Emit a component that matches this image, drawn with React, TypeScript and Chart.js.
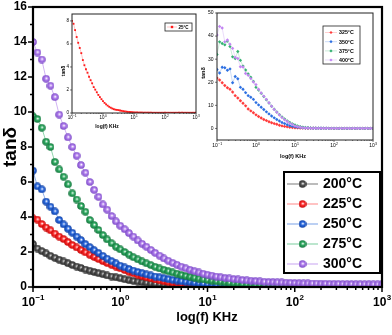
import React, { useEffect, useRef } from 'react';
import { Chart, registerables } from 'chart.js';

Chart.register(...registerables);

// ---------- frequency grids (kHz) ----------
const MANTISSA_20 = [1, 1.122, 1.259, 1.413, 1.585, 1.778, 1.995, 2.239, 2.512, 2.818, 3.162, 3.548, 3.981, 4.467, 5.012, 5.623, 6.31, 7.079, 7.943, 8.913];
const MANTISSA_15 = [1, 1.166, 1.359, 1.585, 1.848, 2.154, 2.512, 2.929, 3.415, 3.981, 4.642, 5.412, 6.31, 7.356, 8.577];
const DECADE_STARTS = [0.1, 1, 10, 100];
const FREQ_END = 1000;
const FREQ_MAIN = [...DECADE_STARTS.flatMap((d) => MANTISSA_20.map((m) => +(d * m).toPrecision(4))), FREQ_END];
const FREQ_INSET2 = [...DECADE_STARTS.flatMap((d) => MANTISSA_15.map((m) => +(d * m).toPrecision(4))), FREQ_END];

// ---------- tick labels ----------
const X_TICK_EXPONENTS = [-1, 0, 1, 2, 3];
const Y_TICKS_MAIN = [0, 2, 4, 6, 8, 10, 12, 14, 16];
const Y_MINOR_MAIN = [1, 3, 5, 7, 9, 11, 13, 15];
const Y_TICKS_INSET1 = [0, 2, 4, 6, 8];
const Y_TICKS_INSET2 = [0, 10, 20, 30, 40, 50];

// ---------- main chart series (tanδ) ----------
const MAIN_LABELS = ['200°C', '225°C', '250°C', '275°C', '300°C'];
const TAN_200C = [
  2.45, 2.2, 2.05, 1.92, 1.78, 1.67, 1.56, 1.46, 1.36, 1.26,
  1.17, 1.09, 1.0, 0.93, 0.86, 0.79, 0.73, 0.66, 0.6, 0.55,
  0.5, 0.44, 0.39, 0.35, 0.31, 0.27, 0.24, 0.21, 0.19, 0.17,
  0.15, 0.13, 0.12, 0.11, 0.1, 0.09, 0.09, 0.08, 0.08, 0.07,
  0.07, 0.07, 0.06, 0.06, 0.06, 0.06, 0.05, 0.05, 0.05, 0.05,
  0.05, 0.05, 0.05, 0.05, 0.05, 0.05, 0.05, 0.05, 0.05, 0.05,
  0.04, 0.04, 0.04, 0.04, 0.04, 0.04, 0.04, 0.04, 0.04, 0.04,
  0.04, 0.04, 0.04, 0.04, 0.04, 0.04, 0.04, 0.04, 0.04, 0.04, 0.04,
];
const TAN_225C = [
  3.92, 3.85, 3.6, 3.4, 3.24, 3.05, 2.88, 2.74, 2.57, 2.4,
  2.26, 2.12, 1.98, 1.84, 1.72, 1.6, 1.48, 1.37, 1.27, 1.17,
  1.07, 0.97, 0.87, 0.78, 0.7, 0.62, 0.55, 0.49, 0.43, 0.38,
  0.33, 0.29, 0.25, 0.22, 0.19, 0.17, 0.15, 0.13, 0.12, 0.11,
  0.1, 0.09, 0.09, 0.08, 0.08, 0.07, 0.07, 0.07, 0.06, 0.06,
  0.06, 0.06, 0.06, 0.05, 0.05, 0.05, 0.05, 0.05, 0.05, 0.05,
  0.05, 0.05, 0.04, 0.04, 0.04, 0.04, 0.04, 0.04, 0.04, 0.04,
  0.04, 0.04, 0.04, 0.04, 0.04, 0.04, 0.04, 0.04, 0.04, 0.04, 0.04,
];
const TAN_250C = [
  6.65, 5.75, 5.58, 4.88, 4.59, 4.32, 3.83, 3.58, 3.33, 3.1,
  2.88, 2.68, 2.45, 2.28, 2.1, 1.95, 1.78, 1.62, 1.48, 1.35,
  1.22, 1.12, 1.03, 0.94, 0.86, 0.79, 0.72, 0.66, 0.6, 0.55,
  0.5, 0.45, 0.41, 0.37, 0.33, 0.3, 0.27, 0.24, 0.21, 0.19,
  0.17, 0.15, 0.14, 0.12, 0.11, 0.1, 0.1, 0.09, 0.09, 0.08,
  0.08, 0.07, 0.07, 0.07, 0.06, 0.06, 0.06, 0.06, 0.05, 0.05,
  0.05, 0.05, 0.05, 0.05, 0.05, 0.05, 0.05, 0.05, 0.05, 0.05,
  0.05, 0.05, 0.05, 0.05, 0.05, 0.05, 0.05, 0.05, 0.05, 0.05, 0.05,
];
const TAN_275C = [
  9.75, 9.6, 9.1, 8.3, 8.0, 7.15, 6.72, 6.3, 5.87, 5.35,
  5.0, 4.63, 4.3, 3.83, 3.54, 3.26, 2.97, 2.72, 2.5, 2.3,
  2.15, 2.0, 1.85, 1.7, 1.58, 1.46, 1.35, 1.25, 1.15, 1.06,
  0.98, 0.9, 0.83, 0.76, 0.69, 0.63, 0.58, 0.53, 0.48, 0.44,
  0.4, 0.36, 0.33, 0.3, 0.27, 0.24, 0.22, 0.2, 0.18, 0.16,
  0.15, 0.14, 0.13, 0.12, 0.11, 0.1, 0.1, 0.09, 0.09, 0.08,
  0.08, 0.08, 0.07, 0.07, 0.07, 0.07, 0.06, 0.06, 0.06, 0.06,
  0.06, 0.06, 0.06, 0.06, 0.06, 0.05, 0.05, 0.05, 0.05, 0.05, 0.05,
];
const TAN_300C = [
  14.0, 13.4, 13.0, 11.9, 11.5, 10.85, 9.85, 9.2, 8.55, 8.0,
  7.5, 6.97, 6.53, 6.0, 5.55, 5.15, 4.72, 4.42, 4.06, 3.75,
  3.5, 3.3, 3.08, 2.88, 2.66, 2.47, 2.3, 2.12, 1.95, 1.79,
  1.63, 1.5, 1.38, 1.27, 1.16, 1.07, 0.98, 0.9, 0.83, 0.76,
  0.7, 0.65, 0.6, 0.56, 0.52, 0.49, 0.46, 0.43, 0.4, 0.38,
  0.36, 0.34, 0.32, 0.3, 0.29, 0.28, 0.27, 0.26, 0.25, 0.24,
  0.23, 0.22, 0.21, 0.21, 0.2, 0.2, 0.19, 0.19, 0.18, 0.18,
  0.18, 0.17, 0.17, 0.17, 0.16, 0.16, 0.16, 0.16, 0.15, 0.15, 0.15,
];

// ---------- inset 1 (25°C) ----------
const INSET1_LABEL = '25°C';
const TAN_25C = [
  8.0, 7.75, 7.2, 6.6, 6.1, 5.65, 5.2, 4.6, 4.15, 3.8,
  3.5, 3.15, 2.85, 2.58, 2.25, 2.03, 1.8, 1.57, 1.38, 1.2,
  1.03, 0.88, 0.75, 0.64, 0.54, 0.46, 0.39, 0.33, 0.29, 0.27,
  0.25, 0.22, 0.19, 0.16, 0.14, 0.12, 0.1, 0.09, 0.08, 0.07,
  0.06, 0.05, 0.05, 0.04, 0.04, 0.04, 0.03, 0.03, 0.03, 0.03,
  0.03, 0.03, 0.02, 0.02, 0.02, 0.02, 0.02, 0.02, 0.02, 0.02,
  0.02, 0.02, 0.02, 0.02, 0.02, 0.02, 0.02, 0.02, 0.02, 0.02,
  0.02, 0.02, 0.02, 0.02, 0.02, 0.02, 0.02, 0.02, 0.02, 0.02, 0.02,
];

// ---------- inset 2 (325–400°C) ----------
const INSET2_LABELS = ['325°C', '350°C', '375°C', '400°C'];
const TAN_325C = [
  21.8, 21.0, 19.8, 18.6, 17.6, 17.0, 15.8, 14.2, 13.2, 12.0,
  10.9, 9.8, 8.4, 7.6, 6.8, 5.9, 5.2, 4.5, 3.9, 3.4,
  2.9, 2.5, 2.1, 1.8, 1.4, 1.1, 0.9, 0.7, 0.5, 0.4,
  0.3, 0.25, 0.2, 0.15, 0.12, 0.1, 0.08, 0.07, 0.06, 0.05,
  0.05, 0.04, 0.04, 0.04, 0.03, 0.03, 0.03, 0.03, 0.03, 0.03,
  0.03, 0.03, 0.02, 0.02, 0.02, 0.02, 0.02, 0.02, 0.02, 0.02, 0.02,
];
const TAN_350C = [
  25.5, 24.0, 26.5, 26.3, 25.2, 25.8, 19.8, 22.5, 21.5, 17.8,
  17.0, 15.5, 14.2, 13.5, 12.6, 11.2, 10.2, 9.2, 8.2, 7.2,
  6.3, 5.4, 4.6, 3.9, 3.2, 2.6, 2.1, 1.6, 1.2, 0.9,
  0.7, 0.5, 0.4, 0.3, 0.22, 0.17, 0.13, 0.1, 0.08, 0.07,
  0.06, 0.05, 0.05, 0.04, 0.04, 0.04, 0.03, 0.03, 0.03, 0.03,
  0.03, 0.03, 0.03, 0.03, 0.03, 0.03, 0.03, 0.03, 0.03, 0.03, 0.03,
];
const TAN_375C = [
  32.0, 37.5, 36.8, 36.2, 37.8, 35.5, 31.0, 30.3, 33.3, 29.5,
  27.0, 25.3, 23.6, 22.2, 20.4, 17.8, 16.6, 15.2, 13.8, 12.4,
  11.0, 9.6, 8.3, 7.1, 6.0, 5.0, 4.1, 3.3, 2.6, 2.0,
  1.5, 1.1, 0.8, 0.55, 0.4, 0.3, 0.22, 0.16, 0.12, 0.1,
  0.08, 0.07, 0.06, 0.05, 0.05, 0.04, 0.04, 0.04, 0.04, 0.04,
  0.04, 0.04, 0.04, 0.04, 0.04, 0.04, 0.04, 0.04, 0.04, 0.04, 0.04,
];
const TAN_400C = [
  40.5, 44.2, 43.5, 37.5, 38.3, 36.5, 34.7, 30.8, 30.3, 26.7,
  26.6, 23.8, 23.0, 21.6, 20.1, 19.0, 17.0, 15.4, 14.0, 12.6,
  11.1, 9.6, 8.2, 7.0, 5.8, 4.7, 3.8, 3.0, 2.3, 1.7,
  1.1, 0.8, 0.5, 0.35, 0.25, 0.18, 0.14, 0.11, 0.09, 0.08,
  0.07, 0.06, 0.06, 0.05, 0.05, 0.05, 0.05, 0.05, 0.05, 0.05,
  0.05, 0.05, 0.05, 0.05, 0.05, 0.05, 0.05, 0.05, 0.05, 0.05, 0.05,
];

// ---------- styling ----------
const FONT = '"Liberation Sans", Arial, Helvetica, sans-serif';
const MAIN_STYLE = [
  { color: '#575757', dark: '#262626', line: '#8f8f8f' },
  { color: '#ff3131', dark: '#c20000', line: '#ff9c9c' },
  { color: '#2b6be2', dark: '#0c3b9c', line: '#90b1ec' },
  { color: '#2fac62', dark: '#12703a', line: '#90d6ae' },
  { color: '#b17eee', dark: '#7645c2', line: '#d0b2f4' },
];
const INSET2_STYLE = [
  { color: '#ff3b3b', line: '#ffb0b0' },
  { color: '#2d70e2', line: '#a8c2f0' },
  { color: '#34b272', line: '#a8dcc0' },
  { color: '#c285f2', line: '#dcc2f6' },
];

function makeSphere(color: string, dark: string, size: number) {
  const c = document.createElement('canvas');
  c.width = size;
  c.height = size;
  const g = c.getContext('2d')!;
  const r = size / 2;
  const grad = g.createRadialGradient(r * 1.12, r * 0.88, r * 0.05, r, r, r);
  grad.addColorStop(0, '#ffffff');
  grad.addColorStop(0.38, color);
  grad.addColorStop(1, dark);
  g.fillStyle = grad;
  g.beginPath();
  g.arc(r, r, r - 0.2, 0, Math.PI * 2);
  g.fill();
  return c;
}

type LegendItem = { label: string; line: string; marker: any; markerColor?: string; markerSize?: number };
type AxesCfg = {
  offset: [number, number];
  yTicks: number[];
  yMinor: number[];
  majorLen: number;
  minorLen: number;
  tickW: number;
  frameW: number;
  frameColor: string;
  tickFont: string;
  expFont: string;
  expRaise: number;
  xLabelDy: number;
  yLabelGap: number;
  titleFont: string;
  yTitleFont: string;
  xTitle: string;
  xTitleAt: [number, number];
  yTitle: string;
  yTitleAt: [number, number];
  fillArea: boolean;
  legend: {
    box: [number, number, number, number];
    borderW: number;
    rows: number[];
    lineX: [number, number];
    markerX: number;
    textX: number;
    font: string;
    lineW: number;
    items: LegendItem[];
  };
};

function drawMarker(ctx: CanvasRenderingContext2D, item: LegendItem, x: number, y: number) {
  if (typeof item.marker !== 'string') {
    const img = item.marker as HTMLCanvasElement;
    ctx.drawImage(img, x - img.width / 2, y - img.height / 2);
    return;
  }
  const s = item.markerSize || 2;
  ctx.fillStyle = item.markerColor || '#000';
  ctx.beginPath();
  if (item.marker === 'rect') {
    ctx.rect(x - s, y - s, 2 * s, 2 * s);
  } else {
    ctx.moveTo(x, y - s);
    ctx.lineTo(x + s, y);
    ctx.lineTo(x, y + s);
    ctx.lineTo(x - s, y);
    ctx.closePath();
  }
  ctx.fill();
}

function axesPlugin(cfg: AxesCfg) {
  return {
    id: 'customAxes',
    beforeDatasetsDraw(chart: any) {
      if (!cfg.fillArea) return;
      const { ctx, chartArea: a } = chart;
      ctx.save();
      ctx.fillStyle = '#ffffff';
      ctx.fillRect(a.left, a.top, a.right - a.left, a.bottom - a.top);
      ctx.restore();
    },
    afterDraw(chart: any) {
      const { ctx, chartArea: a, scales } = chart;
      const xs = scales.x;
      const ys = scales.y;
      const [ox, oy] = cfg.offset;
      ctx.save();
      ctx.strokeStyle = cfg.frameColor;
      ctx.fillStyle = '#000';
      ctx.lineWidth = cfg.tickW;
      // x major & minor ticks
      X_TICK_EXPONENTS.forEach((e, k) => {
        const px = xs.getPixelForValue(Math.pow(10, e));
        ctx.beginPath();
        ctx.moveTo(px, a.bottom);
        ctx.lineTo(px, a.bottom + cfg.majorLen);
        ctx.stroke();
        if (k < X_TICK_EXPONENTS.length - 1) {
          for (let m = 2; m <= 9; m++) {
            const pm = xs.getPixelForValue(m * Math.pow(10, e));
            ctx.beginPath();
            ctx.moveTo(pm, a.bottom);
            ctx.lineTo(pm, a.bottom + cfg.minorLen);
            ctx.stroke();
          }
        }
      });
      // y ticks
      cfg.yTicks.forEach((v) => {
        const py = ys.getPixelForValue(v);
        ctx.beginPath();
        ctx.moveTo(a.left - cfg.majorLen, py);
        ctx.lineTo(a.left, py);
        ctx.stroke();
      });
      cfg.yMinor.forEach((v) => {
        const py = ys.getPixelForValue(v);
        ctx.beginPath();
        ctx.moveTo(a.left - cfg.minorLen, py);
        ctx.lineTo(a.left, py);
        ctx.stroke();
      });
      // frame
      ctx.lineWidth = cfg.frameW;
      ctx.strokeRect(a.left, a.top, a.right - a.left, a.bottom - a.top);

      // x tick labels (10^n)
      ctx.fillStyle = '#000';
      ctx.textBaseline = 'middle';
      X_TICK_EXPONENTS.forEach((e) => {
        const px = xs.getPixelForValue(Math.pow(10, e));
        const exp = e < 0 ? '\u2212' + Math.abs(e) : String(e);
        ctx.font = cfg.tickFont;
        const w1 = ctx.measureText('10').width;
        ctx.font = cfg.expFont;
        const w2 = ctx.measureText(exp).width;
        const x0 = px - (w1 + w2) / 2;
        const y0 = a.bottom + cfg.xLabelDy;
        ctx.textAlign = 'left';
        ctx.font = cfg.tickFont;
        ctx.fillText('10', x0, y0);
        ctx.font = cfg.expFont;
        ctx.fillText(exp, x0 + w1 + 0.3, y0 - cfg.expRaise);
      });
      // y tick labels
      ctx.font = cfg.tickFont;
      ctx.textAlign = 'right';
      cfg.yTicks.forEach((v) => {
        const py = ys.getPixelForValue(v);
        ctx.fillText(String(v), a.left - cfg.majorLen - cfg.yLabelGap, py);
      });
      // titles
      ctx.textAlign = 'center';
      ctx.font = cfg.titleFont;
      ctx.fillText(cfg.xTitle, cfg.xTitleAt[0] - ox, cfg.xTitleAt[1] - oy);
      ctx.save();
      ctx.translate(cfg.yTitleAt[0] - ox, cfg.yTitleAt[1] - oy);
      ctx.rotate(-Math.PI / 2);
      ctx.font = cfg.yTitleFont;
      ctx.fillText(cfg.yTitle, 0, 0);
      ctx.restore();

      // legend
      const L = cfg.legend;
      const [bx, by, bw, bh] = L.box;
      ctx.fillStyle = '#ffffff';
      ctx.fillRect(bx - ox, by - oy, bw, bh);
      ctx.lineWidth = L.borderW;
      ctx.strokeStyle = cfg.frameColor;
      ctx.strokeRect(bx - ox, by - oy, bw, bh);
      L.items.forEach((item, i) => {
        const ry = L.rows[i] - oy;
        ctx.strokeStyle = item.line;
        ctx.lineWidth = L.lineW;
        ctx.beginPath();
        ctx.moveTo(L.lineX[0] - ox, ry);
        ctx.lineTo(L.lineX[1] - ox, ry);
        ctx.stroke();
        drawMarker(ctx, item, L.markerX - ox, ry);
        ctx.fillStyle = '#000';
        ctx.font = L.font;
        ctx.textAlign = 'left';
        ctx.textBaseline = 'middle';
        ctx.fillText(item.label, L.textX - ox, ry + 0.5);
      });
      ctx.restore();
    },
  };
}

const baseOptions = (padding: any, xMin: number, xMax: number, yMin: number, yMax: number) => ({
  responsive: false,
  maintainAspectRatio: false,
  animation: false,
  events: [],
  layout: { padding },
  plugins: { legend: { display: false }, tooltip: { enabled: false } },
  scales: {
    x: { type: 'logarithmic', min: xMin, max: xMax, display: false },
    y: { type: 'linear', min: yMin, max: yMax, display: false },
  },
});

function buildMain() {
  const values = [TAN_200C, TAN_225C, TAN_250C, TAN_275C, TAN_300C];
  const spheres = MAIN_STYLE.map((s) => makeSphere(s.color, s.dark, 8));
  const datasets = values.map((vals, k) => ({
    label: MAIN_LABELS[k],
    data: FREQ_MAIN.map((f, i) => ({ x: f, y: vals[i] })),
    borderColor: MAIN_STYLE[k].line,
    borderWidth: 1,
    pointStyle: spheres[k],
    pointRadius: 4,
    order: values.length - 1 - k,
  }));
  const cfg: AxesCfg = {
    offset: [0, 0],
    yTicks: Y_TICKS_MAIN,
    yMinor: Y_MINOR_MAIN,
    majorLen: 5,
    minorLen: 3,
    tickW: 1.5,
    frameW: 2.2,
    frameColor: '#000',
    tickFont: `bold 12px ${FONT}`,
    expFont: `bold 8px ${FONT}`,
    expRaise: 5,
    xLabelDy: 16,
    yLabelGap: 1,
    titleFont: `bold 13px ${FONT}`,
    yTitleFont: `bold 19px ${FONT}`,
    xTitle: 'log(f) KHz',
    xTitleAt: [207, 317],
    yTitle: 'tanδ',
    yTitleAt: [11, 147],
    fillArea: false,
    legend: {
      box: [284, 172, 96, 101],
      borderW: 2,
      rows: [184, 204, 224, 244, 264],
      lineX: [287, 318],
      markerX: 302.5,
      textX: 323,
      font: `bold 14px ${FONT}`,
      lineW: 1.2,
      items: MAIN_LABELS.map((l, k) => ({ label: l, line: MAIN_STYLE[k].line, marker: spheres[k] })),
    },
  };
  return {
    type: 'line',
    data: { datasets },
    options: baseOptions({ left: 33, top: 7, right: 10, bottom: 48 }, 0.1, 1000, 0, 16),
    plugins: [axesPlugin(cfg)],
  };
}

const INSET1_POS = { left: 50, top: 5, width: 150, height: 130 };
function buildInset1() {
  const datasets = [
    {
      label: INSET1_LABEL,
      data: FREQ_MAIN.map((f, i) => ({ x: f, y: TAN_25C[i] })),
      borderColor: '#ffa0a0',
      borderWidth: 0.6,
      pointStyle: 'rect',
      pointRadius: 1.3,
      pointBorderWidth: 0,
      pointBackgroundColor: '#ff1a1a',
    },
  ];
  const cfg: AxesCfg = {
    offset: [INSET1_POS.left, INSET1_POS.top],
    yTicks: Y_TICKS_INSET1,
    yMinor: [],
    majorLen: 2,
    minorLen: 1,
    tickW: 0.6,
    frameW: 1,
    frameColor: '#222',
    tickFont: `4.5px ${FONT}`,
    expFont: `3.2px ${FONT}`,
    expRaise: 1.6,
    xLabelDy: 4.5,
    yLabelGap: 1,
    titleFont: `bold 5px ${FONT}`,
    yTitleFont: `bold 5px ${FONT}`,
    xTitle: 'log(f) KHz',
    xTitleAt: [107, 127],
    yTitle: 'tanδ',
    yTitleAt: [64, 71],
    fillArea: true,
    legend: {
      box: [165, 23, 27, 8],
      borderW: 0.8,
      rows: [27],
      lineX: [167, 177],
      markerX: 172,
      textX: 178.5,
      font: `bold 4.5px ${FONT}`,
      lineW: 0.6,
      items: [{ label: INSET1_LABEL, line: '#ffa0a0', marker: 'rect', markerColor: '#ff1a1a', markerSize: 1.2 }],
    },
  };
  return {
    type: 'line',
    data: { datasets },
    options: baseOptions(
      { left: 72 - INSET1_POS.left, top: 14 - INSET1_POS.top, right: INSET1_POS.left + INSET1_POS.width - 197, bottom: INSET1_POS.top + INSET1_POS.height - 113 },
      0.1, 1000, 0, 8.6
    ),
    plugins: [axesPlugin(cfg)],
  };
}

const INSET2_POS = { left: 195, top: 5, width: 185, height: 160 };
function buildInset2() {
  const values = [TAN_325C, TAN_350C, TAN_375C, TAN_400C];
  const datasets = values.map((vals, k) => ({
    label: INSET2_LABELS[k],
    data: FREQ_INSET2.map((f, i) => ({ x: f, y: vals[i] })),
    borderColor: INSET2_STYLE[k].line,
    borderWidth: 0.6,
    pointStyle: 'rectRot',
    pointRadius: 1.7,
    pointBorderWidth: 0,
    pointBackgroundColor: INSET2_STYLE[k].color,
    order: values.length - 1 - k,
  }));
  const cfg: AxesCfg = {
    offset: [INSET2_POS.left, INSET2_POS.top],
    yTicks: Y_TICKS_INSET2,
    yMinor: [],
    majorLen: 2,
    minorLen: 1,
    tickW: 0.6,
    frameW: 1,
    frameColor: '#222',
    tickFont: `5px ${FONT}`,
    expFont: `3.5px ${FONT}`,
    expRaise: 1.8,
    xLabelDy: 5.5,
    yLabelGap: 1.5,
    titleFont: `bold 5.5px ${FONT}`,
    yTitleFont: `bold 5.5px ${FONT}`,
    xTitle: 'log(f) KHz',
    xTitleAt: [293, 156],
    yTitle: 'tanδ',
    yTitleAt: [203, 73],
    fillArea: true,
    legend: {
      box: [323, 26, 37, 38],
      borderW: 0.8,
      rows: [32.5, 41.7, 50.9, 60],
      lineX: [325, 337],
      markerX: 331,
      textX: 339,
      font: `bold 5.3px ${FONT}`,
      lineW: 0.6,
      items: INSET2_LABELS.map((l, k) => ({ label: l, line: INSET2_STYLE[k].line, marker: 'rectRot', markerColor: INSET2_STYLE[k].color, markerSize: 1.6 })),
    },
  };
  return {
    type: 'line',
    data: { datasets },
    options: baseOptions(
      { left: 217 - INSET2_POS.left, top: 13 - INSET2_POS.top, right: INSET2_POS.left + INSET2_POS.width - 373, bottom: INSET2_POS.top + INSET2_POS.height - 140 },
      0.1, 1000, -5, 50
    ),
    plugins: [axesPlugin(cfg)],
  };
}

function ChartCanvas(props: { left: number; top: number; width: number; height: number; build: () => any }) {
  const ref = useRef<HTMLCanvasElement>(null);
  useEffect(() => {
    const chart = new Chart(ref.current as HTMLCanvasElement, props.build());
    return () => chart.destroy();
  }, []);
  return (
    <canvas
      ref={ref}
      width={props.width}
      height={props.height}
      style={{ position: 'absolute', left: props.left, top: props.top, width: props.width, height: props.height }}
    />
  );
}

export default function App() {
  return (
    <div style={{ position: 'fixed', left: 0, top: 0, width: 392, height: 335, background: '#fff', overflow: 'hidden' }}>
      <ChartCanvas left={0} top={0} width={392} height={335} build={buildMain} />
      <ChartCanvas {...INSET1_POS} build={buildInset1} />
      <ChartCanvas {...INSET2_POS} build={buildInset2} />
    </div>
  );
}
